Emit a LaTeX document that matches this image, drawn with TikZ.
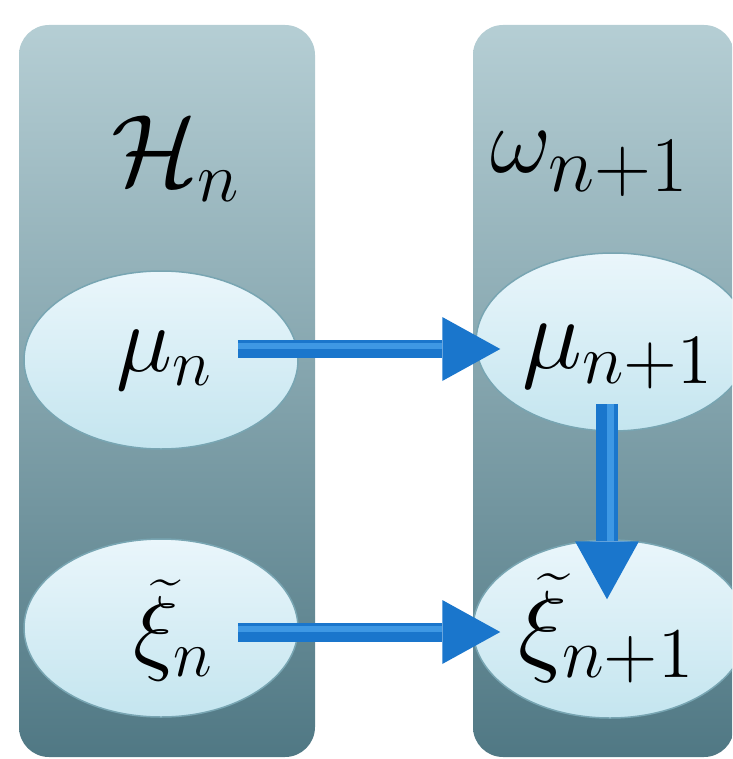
\documentclass[tikz,border=0pt]{standalone}
\usetikzlibrary{arrows.meta,shapes.geometric}
\definecolor{paneltop}{RGB}{181,206,212}
\definecolor{panelbot}{RGB}{80,120,132}
\definecolor{elltop}{RGB}{234,246,251}
\definecolor{ellbot}{RGB}{196,229,239}
\definecolor{ellline}{RGB}{120,165,178}
\definecolor{arrowblue}{RGB}{26,118,204}
\definecolor{arrowhl}{RGB}{62,152,228}
\tikzset{
  panel/.style={rounded corners=30pt, top color=paneltop, bottom color=panelbot, draw=none},
  bubble/.style={ellipse, minimum width=274pt, minimum height=178pt, inner sep=0pt,
    top color=elltop, bottom color=ellbot, draw=ellline, line width=1.5pt},
  biglabel/.style={anchor=base west, inner sep=0pt, font=\LARGE, scale=5.5},
  toplabel/.style={anchor=base west, inner sep=0pt, font=\Huge, scale=3.8},
  fatarrow/.style={draw=arrowblue, line width=#1,
    -{Triangle[width=64pt,length=58pt,line width=0pt]}},
  hbevel/.style={postaction={draw=arrowhl, line width=6pt, -, shorten >=58pt,
    transform canvas={yshift=3pt}}},
  vbevel/.style={postaction={draw=arrowhl, line width=7pt, -, shorten >=58pt,
    transform canvas={xshift=3pt}}},
}
\begin{document}
\begin{tikzpicture}[x=1pt,y=-1pt]
\useasboundingbox (0,0) rectangle (732,759);
\clip (0,0) rectangle (732,759);
% panels
\path[panel] (19,25) rectangle (315,757);
\path[panel] (473,25) rectangle (734,757);
% ellipses
\node[bubble] (mun) at (161,360) {};
\node[bubble] (xin) at (161,628) {};
\node[bubble] (mu1) at (613,342) {};
\node[bubble] (xi1) at (610,629) {};
% labels
\node[biglabel, scale=1.07] (Hn) at (110,186) {$\mathcal{H}_n$};
\node[toplabel] (om) at (490,173) {$\omega_{n+1}$};
\node[biglabel] (muntxt) at (115,371) {$\mu_n$};
\node[biglabel, scale=1.07] (mu1txt) at (521,368) {$\mu_{n+1}$};
\node[biglabel] (xintxt) at (132,662) {$\widetilde{\xi}_n$};
\node[biglabel, scale=1.08] (xi1txt) at (517,662) {$\widetilde{\xi}_{n+1}$};
% arrows
\draw[fatarrow=18pt, hbevel] ([xshift=-61pt,yshift=11pt]mun.east) -- ([xshift=25pt,yshift=-7pt]mu1.west);
\draw[fatarrow=19pt, hbevel] ([xshift=-61pt,yshift=-4pt]xin.east) -- ([xshift=28pt,yshift=-3pt]xi1.west);
\draw[fatarrow=22pt, vbevel] ([xshift=-6pt,yshift=28pt]mu1.south) -- ([xshift=-3pt,yshift=-60pt]xi1.north);
\end{tikzpicture}
\end{document}
